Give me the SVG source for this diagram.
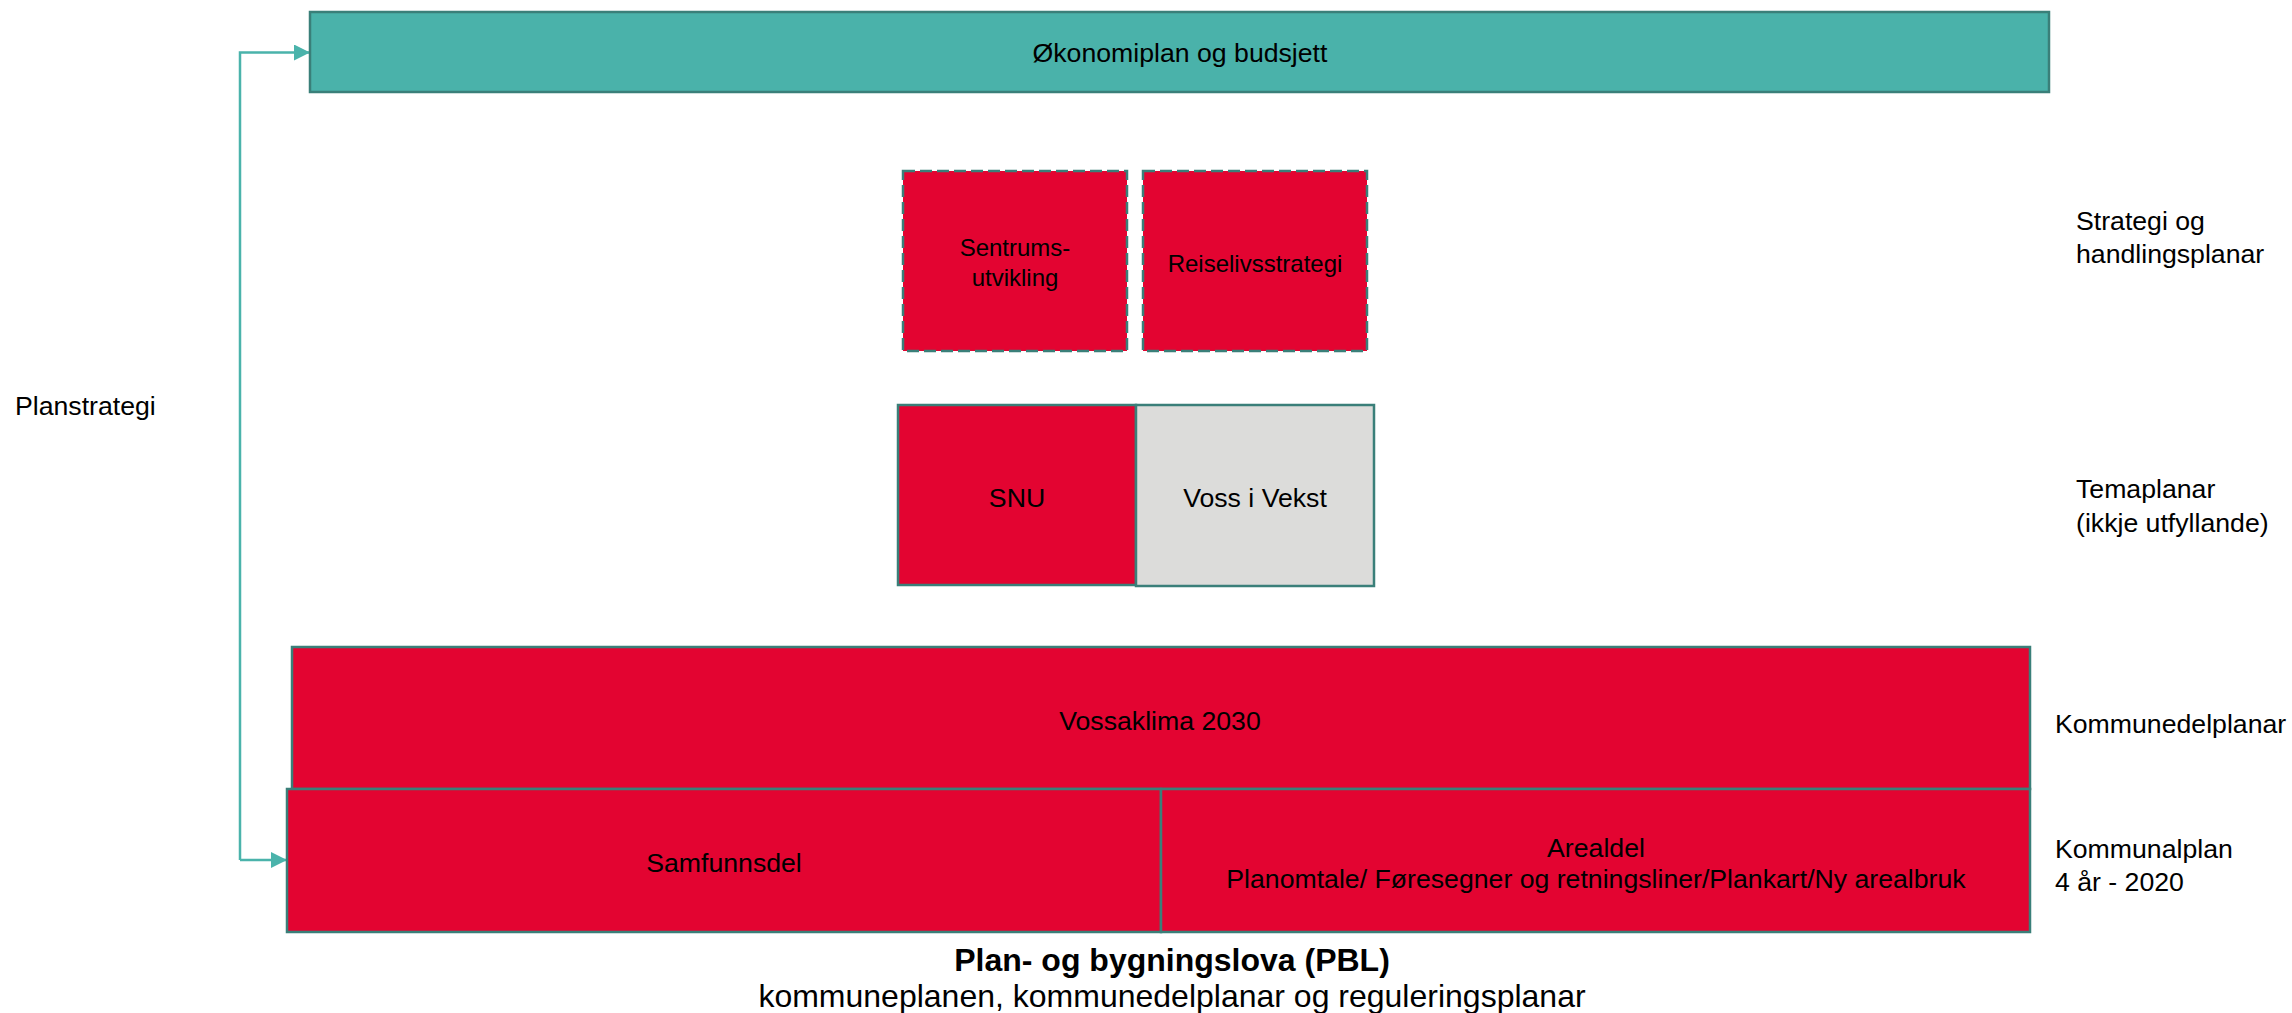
<svg xmlns="http://www.w3.org/2000/svg" width="2292" height="1013" viewBox="0 0 2292 1013">
<style>
text{font-family:"Liberation Sans",Arial,sans-serif;fill:#000}
.t{font-size:26.67px}
.s{font-size:24px}
.red{fill:#E30431;stroke:#3A7F79;stroke-width:2.5}
.dash{fill:#E30431;stroke:#3A7F79;stroke-width:2.5;stroke-dasharray:12 5}
.conn{fill:none;stroke:#4AB3AB;stroke-width:2.5}
</style>
<defs>
<marker id="arr" viewBox="0 0 16 16" refX="16" refY="8" markerWidth="16" markerHeight="16" markerUnits="userSpaceOnUse" orient="auto">
<path d="M0,0 L16,8 L0,16 Z" fill="#4AB3AB"/>
</marker>
</defs>
<rect width="2292" height="1013" fill="#fff"/>
<g id="connectors">
<path class="conn" d="M240,860 L240,52.5 L310,52.5" marker-end="url(#arr)"/>
<path class="conn" d="M240,860 L287,860" marker-end="url(#arr)"/>
</g>
<g id="okonomiplan">
<rect x="310" y="12" width="1739" height="80" fill="#4AB2AA" stroke="#3A7F79" stroke-width="2.5"/>
<text class="t" x="1180" y="62" text-anchor="middle">Økonomiplan og budsjett</text>
</g>
<g id="sentrum">
<rect class="dash" x="903" y="171" width="224" height="180"/>
<text class="s" x="1015" y="255.5" text-anchor="middle">Sentrums-</text>
<text class="s" x="1015" y="285.5" text-anchor="middle">utvikling</text>
</g>
<g id="reiseliv">
<rect class="dash" x="1143" y="171" width="224" height="180"/>
<text class="s" x="1255" y="271.5" text-anchor="middle">Reiselivsstrategi</text>
</g>
<g id="snu">
<rect class="red" x="898" y="405" width="238" height="180"/>
<text class="t" x="1017" y="506.5" text-anchor="middle">SNU</text>
</g>
<g id="vossivekst">
<rect x="1136" y="405" width="238" height="181" fill="#DCDCDA" stroke="#3A7F79" stroke-width="2.5"/>
<text class="t" x="1255" y="506.5" text-anchor="middle">Voss i Vekst</text>
</g>
<g id="vossaklima">
<rect class="red" x="292" y="647" width="1738" height="142"/>
<text class="t" x="1160" y="729.5" text-anchor="middle">Vossaklima 2030</text>
</g>
<g id="samfunnsdel">
<rect class="red" x="287" y="789" width="874" height="143"/>
<text class="t" x="724" y="871.5" text-anchor="middle">Samfunnsdel</text>
</g>
<g id="arealdel">
<rect class="red" x="1161" y="789" width="869" height="143"/>
<text class="t" x="1596" y="856.5" text-anchor="middle">Arealdel</text>
<text class="t" x="1596" y="888" text-anchor="middle">Planomtale/ Føresegner og retningsliner/Plankart/Ny arealbruk</text>
</g>
<g id="labels">
<text class="t" x="15" y="414.5">Planstrategi</text>
<text class="t" x="2076" y="229.5">Strategi og</text>
<text class="t" x="2076" y="263">handlingsplanar</text>
<text class="t" x="2076" y="497.5">Temaplanar</text>
<text class="t" x="2076" y="531.5">(ikkje utfyllande)</text>
<text class="t" x="2055" y="732.5">Kommunedelplanar</text>
<text class="t" x="2055" y="858">Kommunalplan</text>
<text class="t" x="2055" y="891">4 år - 2020</text>
<text x="1172" y="971" text-anchor="middle" font-size="32" font-weight="bold">Plan- og bygningslova (PBL)</text>
<text x="1172" y="1007" text-anchor="middle" font-size="32">kommuneplanen, kommunedelplanar og reguleringsplanar</text>
</g>
</svg>
